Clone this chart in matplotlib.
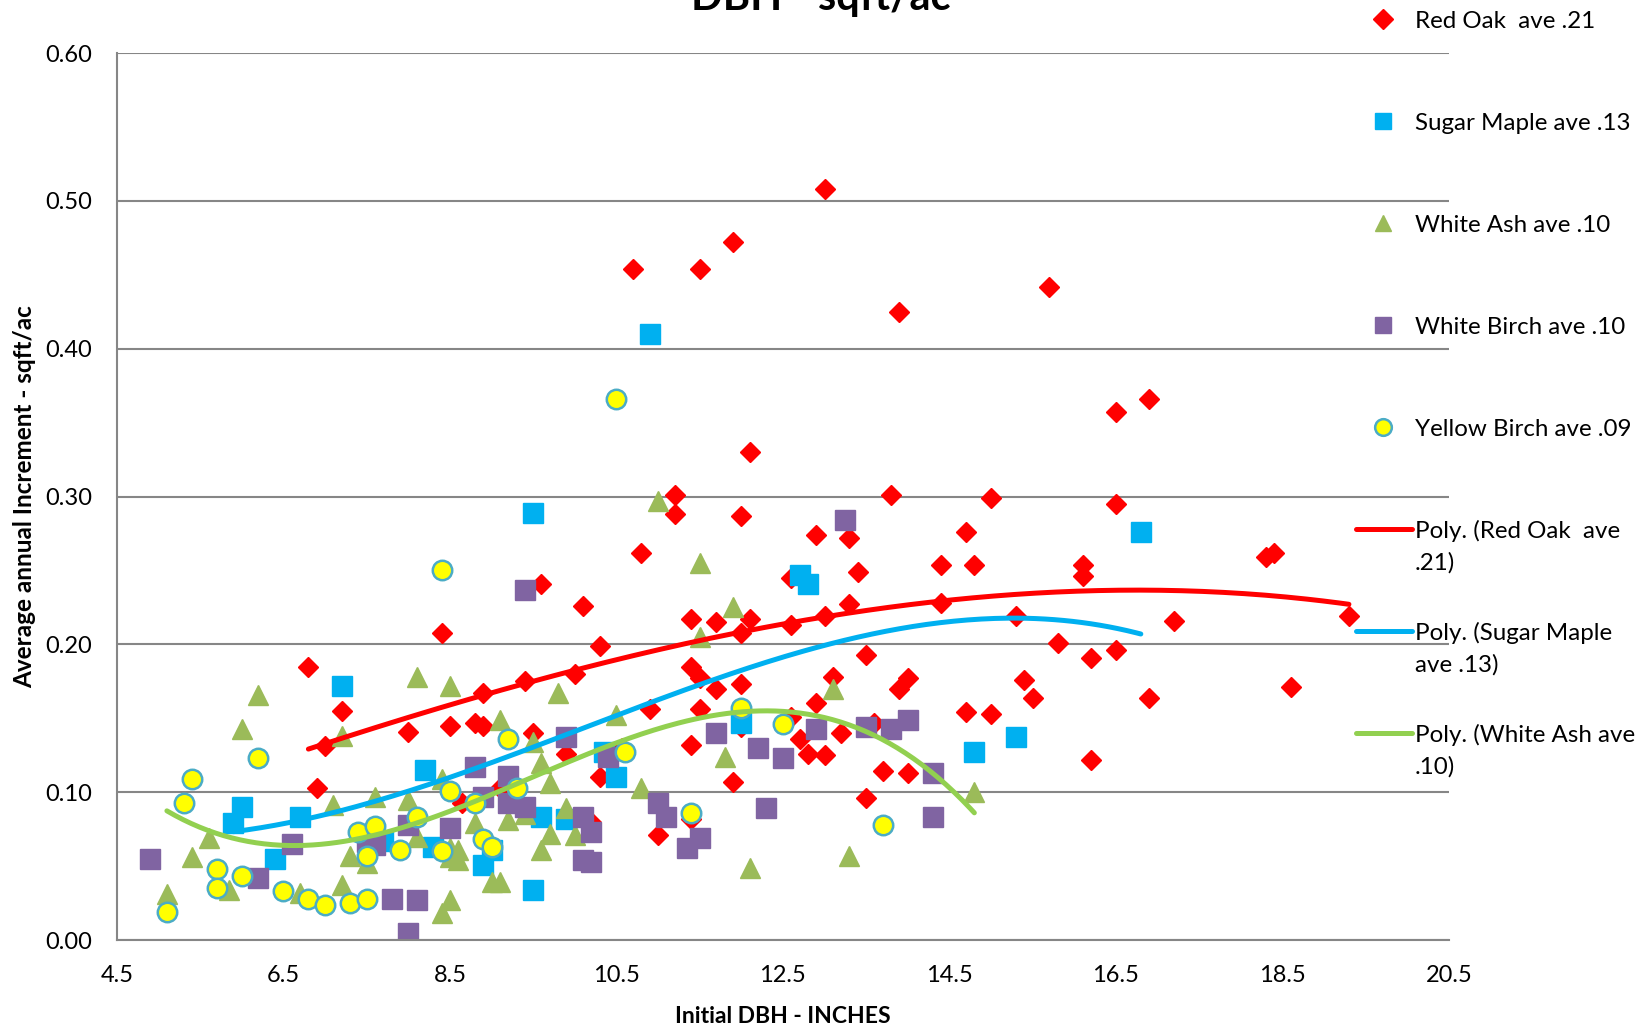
import numpy as np
import matplotlib.pyplot as plt
from matplotlib.lines import Line2D

plt.rcParams['font.family'] = ['Lato', 'DejaVu Sans']

# Data: initial DBH (inches) vs average annual increment (sqft/ac)
red_oak_dbh = [6.8, 6.9, 7.0, 7.2, 8.0, 8.4, 8.5, 8.65, 8.8, 8.9, 8.9, 9.1, 9.4, 9.5, 9.6, 9.9,
               10.0, 10.1, 10.2, 10.3, 10.3, 10.57, 10.7, 10.8, 10.9, 11.0, 11.2, 11.2, 11.4, 11.4,
               11.5, 11.4, 11.4, 11.5, 11.5, 11.7, 11.7, 11.9, 11.9, 12.0, 12.0, 12.0, 12.0, 12.1,
               12.1, 12.6, 12.6, 12.6, 12.7, 12.8, 12.9, 12.9, 13.0, 13.0, 13.0, 13.1, 13.2, 13.3,
               13.3, 13.4, 13.5, 13.5, 13.6, 13.7, 13.8, 13.9, 13.9, 14.0, 14.0, 14.4, 14.4, 14.7,
               14.7, 14.8, 15.0, 15.0, 15.3, 15.4, 15.5, 15.7, 15.8, 16.1, 16.1, 16.2, 16.2, 16.5,
               16.5, 16.5, 16.9, 16.9, 17.2, 18.3, 18.4, 18.6, 19.3]
red_oak_inc = [0.185, 0.103, 0.131, 0.155, 0.141, 0.208, 0.145, 0.093, 0.147, 0.145, 0.167, 0.103,
               0.175, 0.140, 0.241, 0.126, 0.180, 0.226, 0.080, 0.199, 0.110, 0.130, 0.454, 0.262,
               0.156, 0.071, 0.301, 0.288, 0.217, 0.185, 0.177, 0.132, 0.082, 0.454, 0.156, 0.215,
               0.170, 0.472, 0.107, 0.287, 0.208, 0.173, 0.144, 0.217, 0.330, 0.245, 0.213, 0.151,
               0.136, 0.126, 0.274, 0.160, 0.508, 0.219, 0.125, 0.178, 0.140, 0.272, 0.227, 0.249,
               0.193, 0.096, 0.147, 0.114, 0.301, 0.425, 0.170, 0.177, 0.113, 0.228, 0.254, 0.276,
               0.154, 0.254, 0.153, 0.299, 0.219, 0.176, 0.164, 0.442, 0.201, 0.254, 0.246, 0.191,
               0.122, 0.357, 0.295, 0.196, 0.366, 0.164, 0.216, 0.259, 0.262, 0.171, 0.219]

sugar_maple_dbh = [5.9, 6.0, 6.4, 6.7, 7.2, 7.7, 8.2, 8.3, 8.9, 9.0, 9.5, 9.5, 9.6, 9.9, 10.35,
                   10.5, 10.9, 12.0, 12.7, 12.8, 14.8, 15.3, 16.8]
sugar_maple_inc = [0.079, 0.090, 0.055, 0.083, 0.172, 0.067, 0.115, 0.063, 0.051, 0.061, 0.289,
                   0.034, 0.083, 0.082, 0.127, 0.110, 0.410, 0.147, 0.247, 0.241, 0.127, 0.137, 0.276]

white_ash_dbh = [5.1, 5.4, 5.6, 5.85, 6.0, 6.2, 6.7, 7.1, 7.2, 7.2, 7.3, 7.5, 7.6, 8.0, 8.1, 8.1,
                 8.4, 8.4, 8.5, 8.5, 8.5, 8.6, 8.5, 8.6, 8.8, 9.0, 9.1, 9.1, 9.2, 9.4, 9.5, 9.6,
                 9.6, 9.7, 9.7, 9.8, 9.9, 10.0, 10.5, 10.8, 11.0, 11.5, 11.5, 11.8, 11.9, 12.1,
                 13.1, 13.3, 14.8]
white_ash_inc = [0.031, 0.056, 0.069, 0.034, 0.143, 0.166, 0.032, 0.091, 0.138, 0.037, 0.057,
                 0.052, 0.097, 0.095, 0.178, 0.070, 0.109, 0.018, 0.172, 0.027, 0.062, 0.061,
                 0.056, 0.054, 0.079, 0.039, 0.039, 0.149, 0.081, 0.085, 0.134, 0.120, 0.061,
                 0.106, 0.072, 0.167, 0.089, 0.071, 0.152, 0.103, 0.297, 0.255, 0.205, 0.124,
                 0.225, 0.049, 0.170, 0.057, 0.100]

white_birch_dbh = [4.9, 6.2, 6.6, 7.5, 7.6, 7.8, 8.0, 8.1, 8.0, 8.5, 8.8, 8.9, 9.2, 9.2, 9.4, 9.4,
                   9.9, 10.1, 10.2, 10.1, 10.2, 10.4, 11.0, 11.1, 11.35, 11.5, 11.7, 12.2, 12.3,
                   12.5, 12.9, 13.25, 13.5, 13.8, 14.0, 14.3, 14.3]
white_birch_inc = [0.055, 0.042, 0.065, 0.066, 0.064, 0.028, 0.005, 0.027, 0.078, 0.076, 0.117,
                   0.097, 0.111, 0.093, 0.090, 0.237, 0.137, 0.083, 0.073, 0.054, 0.053, 0.124,
                   0.093, 0.083, 0.062, 0.069, 0.140, 0.130, 0.089, 0.123, 0.143, 0.284, 0.144,
                   0.143, 0.149, 0.113, 0.083]

yellow_birch_dbh = [5.1, 5.3, 5.4, 5.7, 5.7, 6.0, 6.2, 6.5, 6.8, 7.0, 7.3, 7.5, 7.4, 7.6, 7.5, 7.9,
                    8.1, 8.4, 8.4, 8.5, 8.8, 8.9, 9.0, 9.2, 9.3, 10.5, 10.6, 11.4, 12.0, 12.5, 13.7]
yellow_birch_inc = [0.019, 0.093, 0.109, 0.048, 0.035, 0.043, 0.123, 0.033, 0.028, 0.024, 0.025,
                    0.028, 0.073, 0.077, 0.057, 0.061, 0.083, 0.060, 0.250, 0.101, 0.093, 0.068,
                    0.063, 0.136, 0.103, 0.366, 0.127, 0.086, 0.157, 0.146, 0.078]

x_ticks = [4.5, 6.5, 8.5, 10.5, 12.5, 14.5, 16.5, 18.5, 20.5]
y_ticks = [0.0, 0.1, 0.2, 0.3, 0.4, 0.5, 0.6]

fig = plt.figure(figsize=(16.52, 10.28), dpi=100)
ax = fig.add_axes([0.0708, 0.0856, 0.8062, 0.8628])

ax.plot(red_oak_dbh, red_oak_inc, ls='none', marker='D', ms=10, color='#FF0000', mec='#FF0000')
ax.plot(sugar_maple_dbh, sugar_maple_inc, ls='none', marker='s', ms=14, color='#00B0F0', mec='#00B0F0')
ax.plot(white_ash_dbh, white_ash_inc, ls='none', marker='^', ms=14, color='#9BBB59', mec='#9BBB59')
ax.plot(white_birch_dbh, white_birch_inc, ls='none', marker='s', ms=14, color='#8064A2', mec='#8064A2')
ax.plot(yellow_birch_dbh, yellow_birch_inc, ls='none', marker='o', ms=14, color='#FFFF00',
        mec='#4BACC6', mew=1.8)

# polynomial trend lines (order 3) over each series' own range
for xs, ys, col in [(red_oak_dbh, red_oak_inc, '#FF0000'),
                    (sugar_maple_dbh, sugar_maple_inc, '#00B0F0'),
                    (white_ash_dbh, white_ash_inc, '#92D050')]:
    coef = np.polyfit(xs, ys, 3)
    xx = np.linspace(min(xs), max(xs), 200)
    ax.plot(xx, np.polyval(coef, xx), color=col, lw=3.6, solid_capstyle='round')

ax.set_xlim(4.5, 20.5)
ax.set_ylim(0, 0.6)
ax.set_xticks(x_ticks)
ax.set_xticklabels([f'{v:.1f}' for v in x_ticks])
ax.set_yticks(y_ticks)
ax.set_yticklabels([f'{v:.2f}' for v in y_ticks])
ax.tick_params(length=0, labelsize=17, pad=18)
ax.grid(axis='y', color='#868686', lw=1.5)
ax.set_axisbelow(True)
for s in ['top', 'right']:
    ax.spines[s].set_visible(False)
for s in ['left', 'bottom']:
    ax.spines[s].set_color('#868686')
    ax.spines[s].set_linewidth(1.5)

ax.set_xlabel('Initial DBH - INCHES', fontsize=16.5, fontweight='bold')
ax.xaxis.set_label_coords(0.5, -0.074)
ax.set_ylabel('Average annual Increment - sqft/ac', fontsize=17.5, fontweight='bold')
ax.yaxis.set_label_coords(-0.061, 0.5)

fig.text(0.497, 0.990, 'DBH - sqft/ac', ha='center', va='baseline', fontsize=30, fontweight='bold')

# legend, drawn entry by entry like the Excel one (handle on the first text line)
legend_items = [
    ('marker', dict(marker='D', ms=10, color='#FF0000'), ['Red Oak  ave .21']),
    ('marker', dict(marker='s', ms=12, color='#00B0F0'), ['Sugar Maple ave .13']),
    ('marker', dict(marker='^', ms=12, color='#9BBB59'), ['White Ash ave .10']),
    ('marker', dict(marker='s', ms=12, color='#8064A2'), ['White Birch ave .10']),
    ('marker', dict(marker='o', ms=12, color='#FFFF00', mec='#4BACC6', mew=1.8), ['Yellow Birch ave .09']),
    ('line', dict(color='#FF0000'), ['Poly. (Red Oak  ave', '.21)']),
    ('line', dict(color='#00B0F0'), ['Poly. (Sugar Maple', 'ave .13)']),
    ('line', dict(color='#92D050'), ['Poly. (White Ash ave', '.10)']),
]
W, H = 1652, 1028
for i, (kind, style, lines) in enumerate(legend_items):
    yf = 1 - (19 + 102 * i) / H
    if kind == 'marker':
        fig.add_artist(Line2D([1383 / W], [yf], transform=fig.transFigure, ls='none', **style))
    else:
        fig.add_artist(Line2D([1356 / W, 1412 / W], [yf, yf], transform=fig.transFigure,
                              lw=3.6, solid_capstyle='round', **style))
    for j, line in enumerate(lines):
        fig.text(1415 / W, yf - 32 * j / H, line, ha='left', va='center_baseline', fontsize=17.4)

fig.savefig('out.png', dpi=100)
